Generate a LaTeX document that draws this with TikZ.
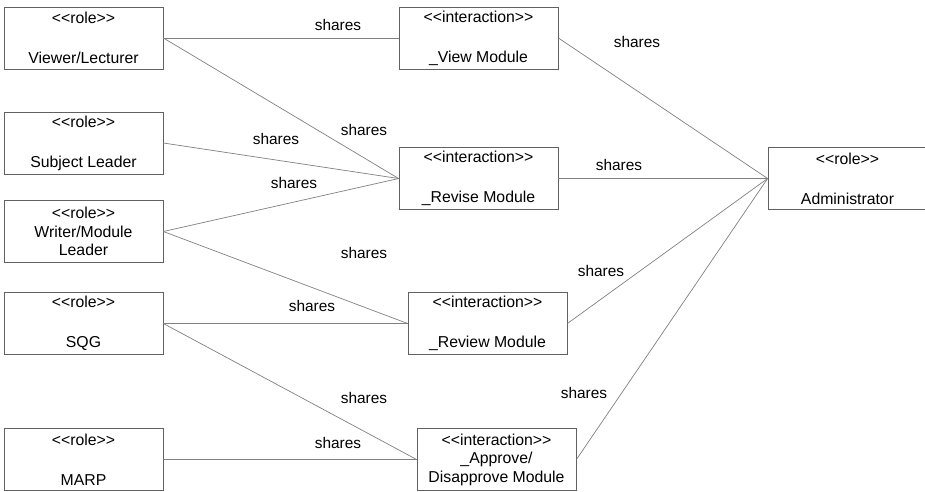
\documentclass[tikz,border=0pt]{standalone}
\usepackage{fontspec}
\newfontfamily\umlfont{Liberation Sans}
\begin{document}
\begin{tikzpicture}[x=1pt,y=-1pt,
  box/.style={draw=black!62, line width=0.8pt, minimum width=159pt,
    minimum height=62pt, inner sep=0pt, align=center,
    font=\umlfont\fontsize{15.8}{18.5}\selectfont},
  link/.style={draw=black!50, line width=0.7pt},
  lbl/.style={font=\umlfont\fontsize{15.4}{18}\selectfont, inner sep=0pt}]
\useasboundingbox (0,0) rectangle (925,491);

% roles on the left
\node[box] (viewer)  at (83.5,38)    {<<role>>\\[21.5pt]Viewer/Lecturer};
\node[box] (subject) at (83.5,143)   {<<role>>\\[21.5pt]Subject Leader};
\node[box] (writer)  at (83.5,231.5) {<<role>>\\Writer/Module\\Leader};
\node[box] (sqg)     at (83.5,323.5) {<<role>>\\[21.5pt]SQG};
\node[box] (marp)    at (83.5,459.5) {<<role>>\\[21.5pt]MARP};

% interactions in the middle
\node[box] (view)    at (478.5,38)    {<<interaction>>\\[21.5pt]\_View Module};
\node[box] (revise)  at (478.5,178.5) {<<interaction>>\\[21.5pt]\_Revise Module};
\node[box] (review)  at (487.5,323.5) {<<interaction>>\\[21.5pt]\_Review Module};
\node[box] (approve) at (496.5,459.5) {<<interaction>>\\\_Approve/\\Disapprove Module};

% role on the right
\node[box] (admin)   at (847.5,178.5) {<<role>>\\[21.5pt]Administrator};

% associations
\draw[link] (viewer.east)  -- (view.west)    node[lbl] (s1) at (338,25)  {shares};
\draw[link] (viewer.east)  -- (revise.west)  node[lbl] (s2) at (364,130) {shares};
\draw[link] (subject.east) -- (revise.west)  node[lbl] (s3) at (276,139) {shares};
\draw[link] (writer.east)  -- (revise.west)  node[lbl] (s4) at (294,183) {shares};
\draw[link] (writer.east)  -- (review.west)  node[lbl] (s5) at (364,253) {shares};
\draw[link] (sqg.east)     -- (review.west)  node[lbl] (s6) at (312,306) {shares};
\draw[link] (sqg.east)     -- (approve.west) node[lbl] (s7) at (364,398) {shares};
\draw[link] (marp.east)    -- (approve.west) node[lbl] (s8) at (338,443) {shares};
\draw[link] (view.east)    -- (admin.west)   node[lbl] (s9) at (637,42)  {shares};
\draw[link] (revise.east)  -- (admin.west)   node[lbl] (s10) at (619,165) {shares};
\draw[link] (review.east)  -- (admin.west)   node[lbl] (s11) at (601,271) {shares};
\draw[link] (approve.east) -- (admin.west)   node[lbl] (s12) at (584,393) {shares};
\end{tikzpicture}
\end{document}
